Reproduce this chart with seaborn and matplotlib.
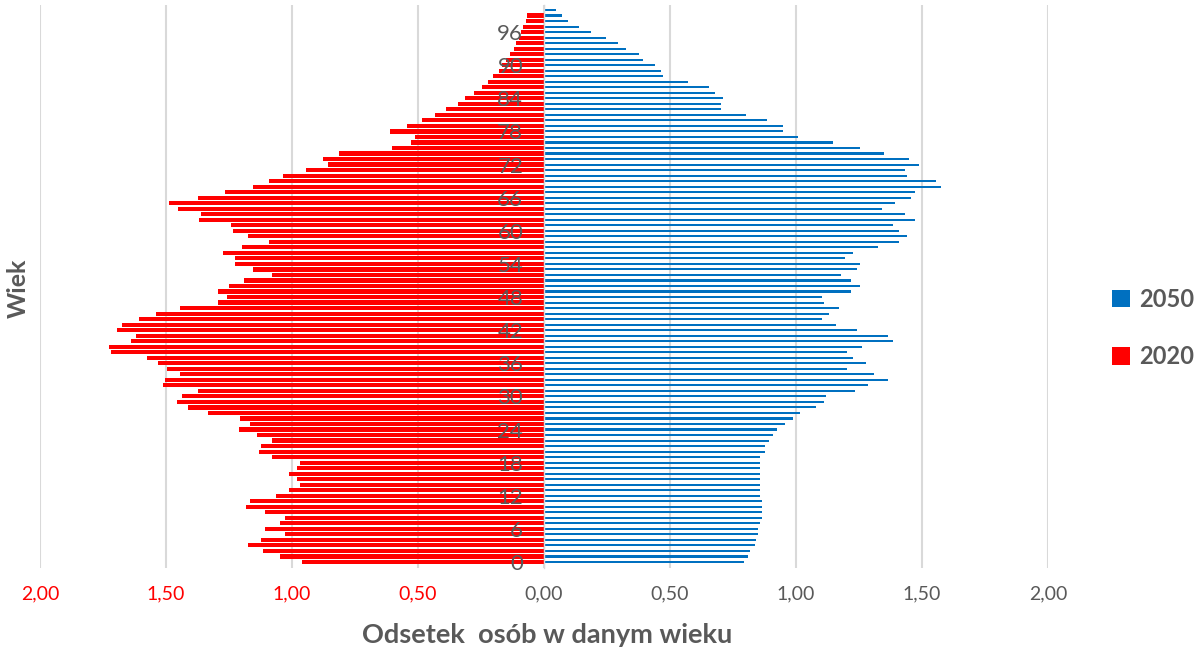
import numpy as np
import pandas as pd
import matplotlib
matplotlib.use("Agg")
import matplotlib.pyplot as plt
from matplotlib.patches import Patch
from matplotlib.ticker import FuncFormatter
import seaborn as sns

ages = list(range(0, 101))

share_2020 = [0.960, 1.048, 1.115, 1.175, 1.123, 1.027, 1.107, 1.048, 1.027, 1.107,
              1.183, 1.167, 1.064, 1.011, 0.967, 0.981, 1.011, 0.981, 0.967, 1.080,
              1.131, 1.123, 1.080, 1.138, 1.212, 1.167, 1.206, 1.332, 1.414, 1.458,
              1.435, 1.375, 1.511, 1.503, 1.443, 1.496, 1.532, 1.577, 1.719, 1.725,
              1.637, 1.621, 1.696, 1.674, 1.606, 1.540, 1.443, 1.294, 1.257, 1.294,
              1.249, 1.190, 1.080, 1.153, 1.228, 1.228, 1.272, 1.198, 1.093, 1.175,
              1.235, 1.243, 1.370, 1.362, 1.451, 1.488, 1.375, 1.265, 1.153, 1.093,
              1.034, 0.946, 0.857, 0.878, 0.812, 0.602, 0.528, 0.513, 0.610, 0.542,
              0.484, 0.432, 0.389, 0.343, 0.313, 0.276, 0.245, 0.224, 0.203, 0.180,
              0.166, 0.150, 0.135, 0.120, 0.113, 0.100, 0.092, 0.082, 0.073, 0.066,
              0.0]

share_2050 = [0.794, 0.810, 0.818, 0.836, 0.843, 0.851, 0.851, 0.859, 0.867, 0.867,
              0.867, 0.867, 0.859, 0.859, 0.859, 0.859, 0.859, 0.859, 0.859, 0.859,
              0.875, 0.875, 0.891, 0.908, 0.924, 0.958, 0.989, 1.015, 1.080, 1.113,
              1.121, 1.236, 1.285, 1.366, 1.309, 1.202, 1.277, 1.228, 1.202, 1.260,
              1.383, 1.366, 1.244, 1.160, 1.105, 1.129, 1.170, 1.113, 1.105, 1.219,
              1.252, 1.219, 1.178, 1.244, 1.252, 1.194, 1.228, 1.325, 1.407, 1.440,
              1.407, 1.383, 1.473, 1.432, 1.342, 1.391, 1.456, 1.473, 1.575, 1.554,
              1.440, 1.432, 1.488, 1.448, 1.350, 1.252, 1.145, 1.007, 0.950, 0.950,
              0.883, 0.801, 0.703, 0.703, 0.711, 0.679, 0.655, 0.572, 0.473, 0.466,
              0.440, 0.393, 0.377, 0.325, 0.294, 0.245, 0.187, 0.138, 0.097, 0.072,
              0.048]

x_ticks = [-2.0, -1.5, -1.0, -0.5, 0.0, 0.5, 1.0, 1.5, 2.0]
y_ticks = list(range(0, 97, 6))
series_labels = ["2050", "2020"]

RED = "#FF0000"
BLUE = "#0070C0"
GRAY = "#595959"

sns.set_style("white")
plt.rcParams["font.family"] = ["Lato", "DejaVu Sans"]

df = pd.DataFrame({"age": ages,
                   "y2020": [-v for v in share_2020],
                   "y2050": share_2050})

fig = plt.figure(figsize=(12.03, 6.55), dpi=100)
ax = fig.add_axes([40 / 1203, 1 - 567.5 / 655, (1048 - 40) / 1203, (567.5 - 4.5) / 655])

sns.barplot(data=df, x="y2020", y="age", orient="h", native_scale=True,
            color=RED, saturation=1, width=0.75, errorbar=None, ax=ax, linewidth=0)
sns.barplot(data=df, x="y2050", y="age", orient="h", native_scale=True,
            color=BLUE, saturation=1, width=0.38, errorbar=None, ax=ax, linewidth=0)

ax.set_xlim(-2.0, 2.0)
ax.set_ylim(-1, 101)
ax.set_xticks(x_ticks)
ax.xaxis.set_major_formatter(FuncFormatter(lambda v, p: f"{abs(v):.2f}".replace(".", ",")))
ax.set_yticks(y_ticks)
ax.set_yticklabels([str(t) for t in y_ticks])

ax.grid(axis="x", color="#D9D9D9", linewidth=1.5)
ax.grid(axis="y", visible=False)
ax.set_axisbelow(True)
ax.yaxis.set_zorder(5)

for side in ["top", "right", "bottom"]:
    ax.spines[side].set_visible(False)
ax.spines["left"].set_position(("data", 0))
ax.spines["left"].set_color("#D9D9D9")
ax.spines["left"].set_linewidth(1.0)

ax.tick_params(axis="x", length=0, pad=13, labelsize=14)
ax.tick_params(axis="y", length=0, pad=15, labelsize=16, labelcolor=GRAY)
for lbl, v in zip(ax.get_xticklabels(), x_ticks):
    lbl.set_color(RED if v < 0 else GRAY)

ax.set_xlabel("")
ax.set_ylabel("")

fig.text(547 / 1203, 1 - 635 / 655, "Odsetek  osób w danym wieku", ha="center", va="center",
         fontsize=19.5, fontweight="bold", color=GRAY)
fig.text(18 / 1203, 1 - 288 / 655, "Wiek", ha="center", va="center", rotation=90,
         fontsize=18, fontweight="bold", color=GRAY)

handles = [Patch(facecolor=BLUE, edgecolor="none"), Patch(facecolor=RED, edgecolor="none")]
leg = fig.legend(handles, series_labels, loc="center left",
                 bbox_to_anchor=(1100 / 1203, 1 - 328 / 655), frameon=False,
                 prop={"size": 17, "weight": "bold"}, handlelength=0.75, handleheight=0.75,
                 handletextpad=0.4, labelspacing=1.45, borderpad=0)
for t in leg.get_texts():
    t.set_color(GRAY)

fig.savefig("out.png", dpi=100)
